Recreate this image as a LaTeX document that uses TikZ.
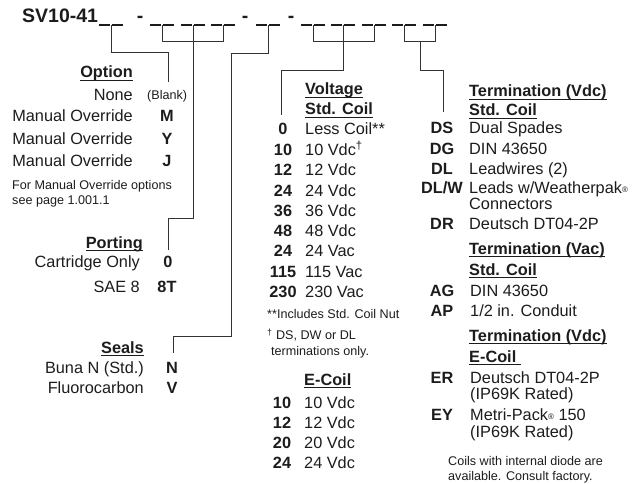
\documentclass[tikz,border=0pt]{standalone}
\usepackage{fontspec}
\setmainfont{Liberation Sans}
\definecolor{ink}{HTML}{1C1C1C}
\definecolor{wirec}{HTML}{333333}
\newsavebox\ulbox
\newcommand\hd[1]{\sbox\ulbox{\bfseries #1}\rlap{\rule[-2.8pt]{\wd\ulbox}{1.1pt}}\usebox\ulbox}
\newcommand\regmark{{\fontsize{8}{8}\selectfont\raisebox{0.3pt}{®}}}
\tikzset{
  txt/.style={inner sep=0pt, font=\fontsize{16.3}{19}\selectfont, text=ink},
  sm/.style={inner sep=0pt, font=\fontsize{12.6}{15}\selectfont, text=ink},
  code/.style={inner sep=0pt, font=\fontsize{16.3}{19}\selectfont\bfseries, text=ink, anchor=base},
  ttl/.style={inner sep=0pt, font=\fontsize{19.5}{22}\selectfont\bfseries, text=ink},
  Lt/.style={anchor=base west}, Rt/.style={anchor=base east},
  wire/.style={draw=wirec, line width=1pt},
  blank/.style={draw=ink, line width=1.2pt}
}
\begin{document}
\begin{tikzpicture}[x=1pt,y=-1pt]
\useasboundingbox (0,0) rectangle (637,484);
% title
\node[ttl,Lt] (title) at (22,23) {SV10-41};
\node[ttl,anchor=base] (h1) at (140,23) {-};
\node[ttl,anchor=base] (h2) at (245,23) {-};
\node[ttl,anchor=base] (h3) at (291,23) {-};
% blanks (pairs of underscores)
\foreach \s in {99,150,181,211,256,301,331,362,392,423}{
  \draw[blank] (\s,25) -- ++(11,0) (\s+13,25) -- ++(11,0);
}
% connector coordinates
\coordinate (u1) at (111,25);
\coordinate (c1) at (111,53);
\coordinate (optend) at (168,82);
\coordinate (b1l) at (162,25); \coordinate (b1r) at (223,25);
\coordinate (b1c) at (193,25);
\coordinate (c2) at (193,218);
\coordinate (portend) at (168,250);
\coordinate (u5) at (268,25);
\coordinate (c3) at (268,54);
\coordinate (c4) at (231,336);
\coordinate (sealend) at (173,353);
\coordinate (b2l) at (313,25); \coordinate (b2r) at (374,25);
\coordinate (b2c) at (343,25);
\coordinate (c5) at (343,71);
\coordinate (voltend) at (281,115);
\coordinate (b3l) at (404,25); \coordinate (b3r) at (435,25);
\coordinate (b3c) at (420,42);
\coordinate (c6) at (420,71);
\coordinate (termend) at (443,112);
% connectors
\draw[wire] (u1) -- (c1) -| (optend);
\draw[wire] (b1l) |- (b1r |- 0,42) -- (b1r);
\draw[wire] (b1c) -- (c2) -| (portend);
\draw[wire] (u5) -- (c3) -| (c4) -| (sealend);
\draw[wire] (b2l) |- (b2r |- 0,42) -- (b2r);
\draw[wire] (b2c) -- (c5) -| (voltend);
\draw[wire] (b3l) |- (b3r |- 0,42) -- (b3r);
\draw[wire] (b3c) -- (c6) -| (termend);
% ---------- left column ----------
\node[txt,Rt] (hopt) at (133,78) {\hd{Option}};
\node[txt,Rt] (o0) at (133,101) {None};
\node[sm,Lt] (o0c) at (147,100) {(Blank)};
\node[txt,Rt] (o1) at (133,122) {Manual Override};
\node[code] (o1c) at (167,122) {M};
\node[txt,Rt] (o2) at (133,144) {Manual Override};
\node[code] (o2c) at (167,144) {Y};
\node[txt,Rt] (o3) at (133,166) {Manual Override};
\node[code] (o3c) at (167,166) {J};
\node[sm,Lt] (on1) at (12,189) {For Manual Override options};
\node[sm,Lt] (on2) at (12,204) {see page 1.001.1};
\node[txt,Rt] (hport) at (143,248) {\hd{Porting}};
\node[txt,Rt] (p1) at (140,267) {Cartridge Only};
\node[code] (p1c) at (168,267) {0};
\node[txt,Rt] (p2) at (140,292) {SAE 8};
\node[code] (p2c) at (167,292) {8T};
\node[txt,Rt] (hseal) at (144,353) {\hd{Seals}};
\node[txt,Rt] (s1) at (144,373) {Buna N (Std.)};
\node[code] (s1c) at (172,373) {N};
\node[txt,Rt] (s2) at (144,393) {Fluorocarbon};
\node[code] (s2c) at (172,393) {V};
% ---------- middle column ----------
\node[txt,Lt] (hv1) at (305,95) {\hd{Voltage}};
\node[txt,Lt] (hv2) at (305,115) {\hd{Std. Coil}};
\node[code] (v1c) at (283,135) {0};    \node[txt,Lt] (v1) at (305,135) {Less Coil**};
\node[code] (v2c) at (283,155.3) {10}; \node[txt,Lt] (v2) at (305,155.3) {10 Vdc\textsuperscript{†}};
\node[code] (v3c) at (283,175.6) {12}; \node[txt,Lt] (v3) at (305,175.6) {12 Vdc};
\node[code] (v4c) at (283,196) {24};   \node[txt,Lt] (v4) at (305,196) {24 Vdc};
\node[code] (v5c) at (283,216.2) {36}; \node[txt,Lt] (v5) at (305,216.2) {36 Vdc};
\node[code] (v6c) at (283,236.5) {48}; \node[txt,Lt] (v6) at (305,236.5) {48 Vdc};
\node[code] (v7c) at (283,256.8) {24}; \node[txt,Lt] (v7) at (305,256.8) {24 Vac};
\node[code] (v8c) at (283,277.1) {115}; \node[txt,Lt] (v8) at (305,277.1) {115 Vac};
\node[code] (v9c) at (283,297.4) {230}; \node[txt,Lt] (v9) at (305,297.4) {230 Vac};
\node[sm,Lt] (vn1) at (267,318.5) {**Includes Std. Coil Nut};
\node[sm,Lt] (vn2) at (267,339.5) {\textsuperscript{†} DS, DW or DL};
\node[sm,Lt] (vn3) at (271,355.5) {terminations only.};
\node[txt,Lt] (he) at (304,385) {\hd{E-Coil}};
\node[code] (e1c) at (282,408) {10}; \node[txt,Lt] (e1) at (304,408) {10 Vdc};
\node[code] (e2c) at (282,428) {12}; \node[txt,Lt] (e2) at (304,428) {12 Vdc};
\node[code] (e3c) at (282,448) {20}; \node[txt,Lt] (e3) at (304,448) {20 Vdc};
\node[code] (e4c) at (282,468) {24}; \node[txt,Lt] (e4) at (304,468) {24 Vdc};
% ---------- right column ----------
\node[txt,Lt] (ht1) at (469,97) {\hd{Termination (Vdc)}};
\node[txt,Lt] (ht2) at (469,116) {\hd{Std. Coil}};
\node[code] (t1c) at (442,134) {DS};   \node[txt,Lt] (t1) at (469,134) {Dual Spades};
\node[code] (t2c) at (442,154) {DG};   \node[txt,Lt] (t2) at (469,154) {DIN 43650};
\node[code] (t3c) at (442,174) {DL};   \node[txt,Lt] (t3) at (469,174) {Leadwires (2)};
\node[code] (t4c) at (442,193) {DL/W}; \node[txt,Lt] (t4) at (469,193) {Leads w/Weatherpak\regmark};
\node[txt,Lt] (t4b) at (469,209) {Connectors};
\node[code] (t5c) at (442,229) {DR};   \node[txt,Lt] (t5) at (469,229) {Deutsch DT04-2P};
\node[txt,Lt] (ha1) at (469,254) {\hd{Termination (Vac)}};
\node[txt,Lt] (ha2) at (469,275) {\hd{Std. Coil}};
\node[code] (a1c) at (442,296) {AG};   \node[txt,Lt] (a1) at (470,296) {DIN 43650};
\node[code] (a2c) at (442,316) {AP};   \node[txt,Lt] (a2) at (470,316) {1/2 in. Conduit};
\node[txt,Lt] (hte1) at (469,341) {\hd{Termination (Vdc)}};
\node[txt,Lt] (hte2) at (469,362) {\hd{E-Coil\ }};
\node[code] (r1c) at (442,383) {ER};   \node[txt,Lt] (r1) at (470,383) {Deutsch DT04-2P};
\node[txt,Lt] (r1b) at (470,399) {(IP69K Rated)};
\node[code] (r2c) at (442,420) {EY};   \node[txt,Lt] (r2) at (470,420) {Metri-Pack\regmark\ 150};
\node[txt,Lt] (r2b) at (470,437) {(IP69K Rated)};
\node[sm,Lt] (cn1) at (448,465) {Coils with internal diode are};
\node[sm,Lt] (cn2) at (448,480) {available. Consult factory.};
\end{tikzpicture}
\end{document}
